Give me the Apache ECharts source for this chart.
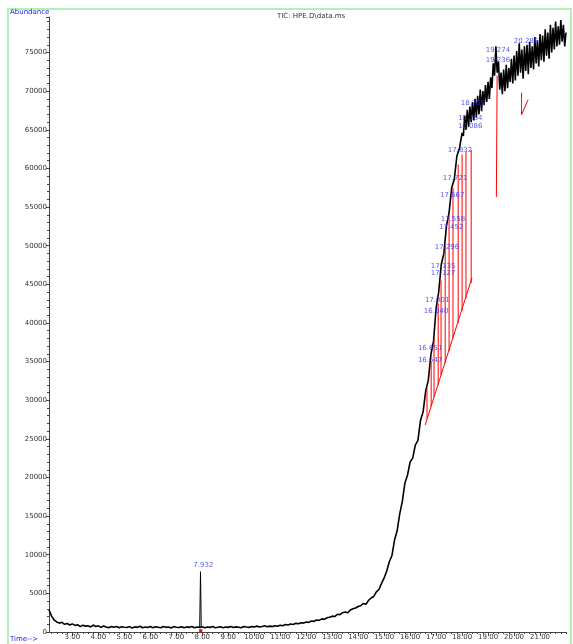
<!DOCTYPE html>
<html>
<head>
<meta charset="utf-8">
<title>TIC: HPE.D\data.ms</title>
<script src="https://cdn.jsdelivr.net/npm/echarts@6/dist/echarts.min.js"></script>
<style>
  html, body { margin: 0; padding: 0; background: #fff; }
  #main { width: 573px; height: 644px; }
</style>
</head>
<body>
<div id="main"></div>
<script>
// scan grid of the TIC trace (minutes)
const scanStart = 2.1;
const scanStep = 0.1;
const lateStart = 18.05;
const lateStep = 0.05;

// abundance per scan (2.1 .. 18.0 min)
const abundance = [
    2850, 2050, 1550, 1300, 1150, 1250, 1000, 1100, 900, 1050,
    850, 950, 700, 880, 760, 820, 650, 900, 720, 800,
    600, 780, 650, 560, 720, 610, 700, 540, 690, 620,
    580, 700, 520, 660, 600, 740, 560, 650, 590, 700,
    540, 680, 620, 560, 720, 600, 650, 520, 700, 610,
    580, 690, 540, 660, 600, 720, 560, 640, 600, 680,
    560, 650, 600, 700, 540, 620, 680, 560, 640, 600,
    700, 580, 660, 620, 560, 720, 640, 600, 700, 660,
    760, 650, 720, 800, 680, 760, 700, 820, 740, 880,
    800, 960, 900, 1040, 980, 1120, 1060, 1200, 1150, 1300,
    1250, 1420, 1380, 1550, 1500, 1700, 1640, 1850, 1900, 2050,
    2000, 2300, 2250, 2500, 2600, 2500, 2850, 3000, 3100, 3300,
    3400, 3700, 3600, 4100, 4400, 4600, 5200, 5500, 6300, 7000,
    7900, 9100, 9900, 11900, 13100, 15300, 16900, 19300, 20300, 22000,
    22500, 24200, 24800, 27400, 28500, 31200, 32600, 35900, 37600, 41900,
    44000, 47600, 49000, 52600, 54300, 57500, 58600, 61600, 62600, 64600
];

// denser, noisier top part of the trace (18.05 .. 22.0 min)
const abundanceLate = [
    64200, 66800, 65000, 67600, 65400, 68000, 66000, 68600, 66200, 69000,
    66600, 69400, 67000, 70200, 67400, 70000, 68200, 70800, 68600, 71200,
    69000, 71800, 70400, 73600, 72000, 75800, 72400, 73800, 70200, 72400,
    69600, 72800, 70000, 73400, 70400, 73000, 71200, 74200, 71000, 74600,
    71400, 75200, 72000, 76200, 72400, 75400, 71600, 75800, 72600, 76000,
    72200, 76400, 73000, 75800, 72800, 77000, 73600, 76600, 73200, 77400,
    74000, 77200, 73800, 78000, 74600, 77600, 74200, 78600, 75000, 78200,
    75400, 79000, 75800, 78400, 76000, 79200, 76400, 78600, 75800, 77600
];

// narrow peak at 7.932 min
const spike = [[7.90, 620], [7.932, 7800], [7.96, 640]];

// peak labels: text, label time, label abundance
const peakNames = ['7.932', '16.547', '16.651', '16.940', '17.001', '17.127', '17.135',
    '17.296', '17.452', '17.558', '17.667', '17.721', '17.832', '18.086', '18.164',
    '18.259', '19.236', '19.274', '20.286'];
const peakLabelT = [8.04, 16.77, 16.77, 17.00, 17.04, 17.27, 17.27,
    17.42, 17.58, 17.65, 17.62, 17.73, 17.92, 18.31, 18.31,
    18.42, 19.38, 19.38, 20.46];
const peakLabelY = [8680, 35220, 36780, 41570, 43000, 46490, 47400,
    49860, 52450, 53480, 56590, 58790, 62420, 65530, 66560,
    68500, 74070, 75240, 76530];

// integration drop lines: time, top, bottom
const dropT = [16.65, 16.81, 16.92, 17.08, 17.19, 17.35, 17.50, 17.65, 17.85, 18.00, 18.15, 18.35];
const dropTop = [31500, 35000, 38000, 42500, 45500, 50000, 54000, 57500, 60500, 61800, 62200, 62400];
const dropBottom = [27610, 29200, 30400, 32000, 33200, 34800, 36390, 38000, 39990, 41580, 43190, 45180];
const baseLine = [[16.58, 26800], [18.38, 45850]];
const drop19 = [[19.35, 72000], [19.32, 56300]];
const hook20 = [[20.29, 69800], [20.29, 66950], [20.54, 68900]];
const mark8 = [[7.88, 150], [8.00, 150]];

const xTicks = [3, 4, 5, 6, 7, 8, 9, 10, 11, 12, 13, 14, 15, 16, 17, 18, 19, 20, 21];

const ticData = abundance.map((v, i) => [+(scanStart + i * scanStep).toFixed(2), v])
    .concat(abundanceLate.map((v, i) => [+(lateStart + i * lateStep).toFixed(3), v]));
const minorX = [];
for (let t = 2.2; t < 22; t += 0.2) minorX.push(+t.toFixed(2));

const redLines = dropT.map((t, i) => ({ coords: [[t, dropTop[i]], [t, dropBottom[i]]] }));
redLines.push({ coords: baseLine }, { coords: drop19 }, { coords: hook20 });

const peakData = peakNames.map((n, i) => ({ name: n, value: [peakLabelT[i], peakLabelY[i]] }));

let chart = echarts.init(document.getElementById('main'), null, { renderer: 'canvas' });
chart.setOption({
    animation: false,
    backgroundColor: '#fff',
    title: {
        text: 'TIC: HPE.D\\data.ms',
        left: 272, top: 8,
        textStyle: { fontSize: 7, fontWeight: 'normal', color: '#333', fontFamily: 'DejaVu Sans' }
    },
    graphic: [
        { type: 'rect', shape: { x: 8, y: 9, width: 563, height: 640 },
          style: { fill: 'none', stroke: '#b4f0b0', lineWidth: 2 } },
        { type: 'text', left: 10, top: 9,
          style: { text: 'Abundance', fill: '#2222ee', font: '7px DejaVu Sans' } },
        { type: 'text', left: 10, top: 636,
          style: { text: 'Time-->', fill: '#2222ee', font: '7px DejaVu Sans' } }
    ],
    grid: { left: 49, right: 7, top: 17, bottom: 12 },
    xAxis: [{
        type: 'value', min: 2.1, max: 22.0,
        axisLine: { lineStyle: { color: '#444', width: 1 } },
        axisTick: { customValues: xTicks, length: 4, lineStyle: { color: '#444' } },
        axisLabel: { customValues: xTicks, fontSize: 7, color: '#333', margin: 2,
            fontFamily: 'DejaVu Sans', formatter: (v) => v.toFixed(2) },
        splitLine: { show: false }
    }, {
        type: 'value', min: 2.1, max: 22.0, position: 'bottom', gridIndex: 0,
        axisLine: { show: false },
        axisTick: { customValues: minorX, length: 2, lineStyle: { color: '#444' } },
        axisLabel: { show: false },
        splitLine: { show: false }
    }],
    yAxis: {
        type: 'value', min: 0, max: 79600, interval: 5000,
        axisLine: { show: true, lineStyle: { color: '#444', width: 1 } },
        axisTick: { show: true, length: 3, lineStyle: { color: '#444' } },
        minorTick: { show: true, splitNumber: 5, length: 2, lineStyle: { color: '#444' } },
        axisLabel: { fontSize: 7, color: '#333', margin: 2, fontFamily: 'DejaVu Sans',
            formatter: (v) => (v % 5000 === 0 ? String(v) : '') },
        splitLine: { show: false }
    },
    series: [{
        type: 'line', name: 'TIC', data: ticData, showSymbol: false,
        lineStyle: { color: '#000', width: 1.6 }, z: 3
    }, {
        type: 'line', name: 'spike', data: spike, showSymbol: false,
        lineStyle: { color: '#000', width: 1 }, z: 3
    }, {
        type: 'lines', coordinateSystem: 'cartesian2d', polyline: true,
        data: redLines, lineStyle: { color: '#ff0000', width: 1, opacity: 1 }, z: 4
    }, {
        type: 'lines', coordinateSystem: 'cartesian2d', polyline: true,
        data: [{ coords: mark8 }], lineStyle: { color: '#ff0000', width: 3, opacity: 1 }, z: 4
    }, {
        type: 'scatter', data: peakData, symbolSize: 1,
        itemStyle: { color: 'rgba(0,0,0,0)' }, z: 5,
        label: { show: true, position: 'inside', formatter: (p) => p.name,
            fontSize: 7, color: '#2b2bff', fontFamily: 'DejaVu Sans' }
    }]
});
</script>
</body>
</html>
